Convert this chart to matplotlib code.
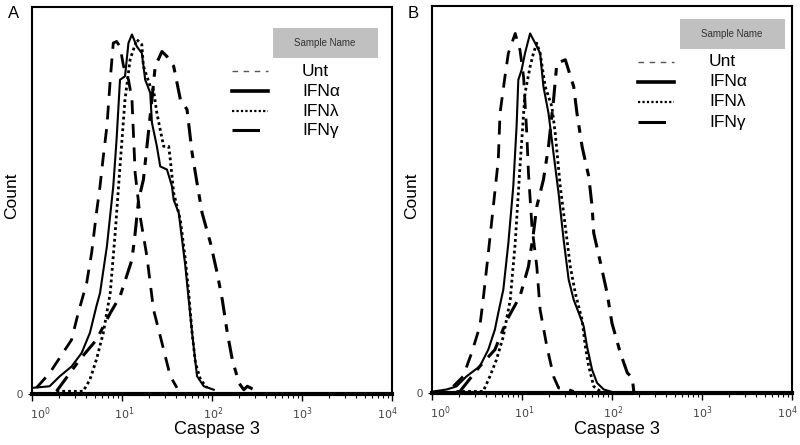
import matplotlib
matplotlib.use("Agg")
import matplotlib.pyplot as plt
import matplotlib.transforms as mtransforms
from matplotlib.ticker import LogLocator, NullFormatter, FixedLocator

plt.rcParams['font.family'] = ['Liberation Sans', 'DejaVu Sans']

# ---- panel A data (Caspase 3 intensity, count) ----
a_alpha_x = [1.03, 1.57, 2.04, 2.75, 3.56, 4.4, 5.2, 5.7, 6.8, 8.0, 8.7, 9.5, 10.8, 11.8, 12.9, 14.6,
             16.6, 18.1, 20.6, 21.5, 24.4, 26.6, 31.6, 35.9, 37.5, 42.7, 46.5, 50.6, 55.1, 60.1, 68.2,
             81.1, 104.7]
a_alpha_y = [1.6, 2.0, 4.6, 7.1, 10.6, 15.8, 22.7, 26.1, 38.2, 53.7, 65.7, 81.2, 82.1, 90.7, 92.9, 89.8,
             88.1, 81.2, 77.8, 70.1, 64.0, 58.8, 58.0, 53.7, 50.2, 46.8, 39.9, 33.0, 24.4, 15.8, 4.6,
             2.0, 1.1]
a_lambda_x = [1.87, 3.7, 4.4, 5.2, 6.2, 7.4, 8.4, 9.5, 10.8, 12.3, 13.4, 14.6, 16.6, 17.3, 20.6, 22.4,
              24.4, 29.0, 33.0, 34.4, 37.5, 44.5, 50.6, 55.1, 60.1, 65.5, 74.5, 88.3]
a_lambda_y = [0.7, 0.7, 3.7, 8.9, 15.8, 26.1, 41.6, 58.8, 76.1, 86.4, 89.0, 91.6, 90.3, 84.7, 79.5, 78.6,
              72.6, 64.0, 64.0, 60.6, 52.0, 45.0, 34.7, 26.1, 15.8, 8.0, 3.7, 1.6]
a_unt_x = [1.12, 1.57, 2.75, 3.26, 4.05, 4.6, 5.2, 5.7, 6.2, 6.8, 7.4, 8.0, 8.7, 9.5, 10.4, 11.8, 12.9,
           14.0, 15.9, 18.9, 22.4, 27.8, 34.4, 40.8]
a_unt_y = [1.6, 5.4, 14.0, 20.9, 28.7, 36.5, 46.8, 53.7, 61.4, 69.2, 81.2, 90.7, 91.1, 89.8, 84.7, 81.2,
           76.1, 57.1, 45.9, 35.6, 21.8, 13.2, 4.6, 1.6]
a_gamma_x = [1.87, 3.4, 5.2, 7.4, 9.5, 12.9, 14.0, 15.3, 17.3, 21.5, 23.4, 27.8, 31.6, 37.5, 44.5, 52.8,
             60.1, 68.2, 77.6, 96.2, 114, 130, 148, 168, 199.5, 226, 247, 293, 333]
a_gamma_y = [0.7, 8.9, 14.0, 20.9, 25.2, 34.7, 41.6, 50.2, 55.4, 76.1, 84.7, 88.5, 87.2, 84.7, 76.1, 73.5,
             62.3, 54.5, 46.8, 39.0, 31.3, 24.4, 15.8, 8.9, 2.8, 1.1, 2.0, 1.1, 0.4]

# ---- panel B data ----
b_alpha_x = [1.03, 1.45, 1.87, 2.42, 3.4, 4.22, 5.0, 5.45, 6.2, 7.05, 8.0, 8.7, 9.1, 9.9, 10.8, 12.3,
             14.0, 15.9, 17.3, 19.7, 22.4, 25.5, 29.0, 33.0, 37.5, 42.7, 48.5, 52.8, 60.1, 68.2, 81.1, 96.2]
b_alpha_y = [0.4, 0.9, 1.7, 4.3, 6.9, 11.2, 16.4, 20.7, 26.7, 38.7, 53.4, 68.8, 80.9, 83.5, 87.8, 92.9,
             90.4, 87.8, 79.2, 72.3, 61.9, 51.6, 39.6, 29.3, 24.1, 20.7, 17.2, 12.0, 6.0, 2.6, 0.9, 0.4]
b_lambda_x = [1.87, 3.7, 4.4, 5.2, 6.2, 7.4, 8.4, 9.5, 10.8, 12.3, 13.4, 14.6, 15.9, 18.1, 21.5, 23.4,
              26.6, 30.3, 34.4, 39.1, 46.5, 50.6, 55.1, 62.7, 74.5]
b_lambda_y = [0.4, 0.4, 4.3, 8.6, 14.6, 24.1, 38.7, 58.5, 77.5, 84.3, 87.8, 90.4, 87.8, 79.2, 74.0, 67.1,
              53.4, 43.0, 32.7, 25.8, 18.9, 12.0, 6.9, 1.7, 0.4]
b_unt_x = [1.72, 2.22, 2.75, 3.4, 3.7, 4.22, 4.8, 5.45, 5.7, 6.47, 7.05, 8.4, 9.5, 10.4, 11.3, 11.8, 12.9,
           14.6, 15.9, 18.9, 22.4, 25.5, 29.0, 37.5]
b_unt_y = [1.7, 4.3, 10.3, 17.2, 24.1, 36.1, 48.2, 60.2, 72.3, 81.8, 87.8, 92.9, 88.6, 81.8, 67.1, 56.8,
           43.0, 32.7, 21.5, 12.0, 4.3, 1.3, 1.3, 0.4]
b_gamma_x = [2.04, 3.4, 5.0, 6.8, 9.5, 11.8, 13.4, 14.6, 17.3, 19.7, 22.4, 24.4, 30.3, 37.5, 40.8, 46.5,
             55.1, 60.1, 62.7, 74.5, 88.3, 99.8, 124, 148, 168, 175]
b_gamma_y = [0.4, 6.9, 11.2, 18.9, 25.0, 32.7, 41.3, 48.2, 55.1, 63.7, 75.7, 85.2, 86.1, 79.2, 72.3, 63.7,
             56.0, 48.2, 41.3, 33.6, 25.8, 18.1, 10.3, 5.2, 3.9, 0.2]

legend_names = ['Unt', 'IFN\u03b1', 'IFN\u03bb', 'IFN\u03b3']
tick_labels = ['$10^{0}$', '$10^{1}$', '$10^{2}$', '$10^{3}$', '$10^{4}$']
tick_shift = [0.08, 0.02, 0.01, 0.0, -0.05]  # inches, the software keeps labels inside the box

W, H = 800, 445
fig = plt.figure(figsize=(8, 4.45), dpi=100)

styles = {
    'Unt': dict(color='black', lw=2.0, dashes=(5, 3.5)),
    'alpha': dict(color='black', lw=1.5, linestyle='-'),
    'lambda': dict(color='black', lw=2.0, linestyle=(0, (1, 1.1))),
    'gamma': dict(color='black', lw=2.2, dashes=(6, 3, 2.5, 3)),
}


def fig_box(left, top, right, bottom):
    # pixel box -> figure fraction [l, b, w, h]
    return [left / W, 1 - bottom / H, (right - left) / W, (bottom - top) / H]


def panel(box, data, letter, legend_pos):
    ax = fig.add_axes(fig_box(*box))
    unt, alpha, lam, gam = data
    ax.plot(*unt, **styles['Unt'])
    ax.plot(*alpha, **styles['alpha'])
    ax.plot(*lam, **styles['lambda'])
    ax.plot(*gam, **styles['gamma'])
    ax.set_xscale('log')
    ax.set_xlim(1, 1e4)
    ax.set_ylim(0, 100)

    ax.xaxis.set_major_locator(FixedLocator([1, 10, 100, 1000, 10000]))
    ax.set_xticklabels(tick_labels)
    ax.xaxis.set_minor_locator(LogLocator(base=10, subs=range(2, 10)))
    ax.xaxis.set_minor_formatter(NullFormatter())
    ax.tick_params(axis='x', which='major', length=5, width=1, labelsize=8,
                   labelcolor='#444444', pad=3)
    ax.tick_params(axis='x', which='minor', length=3, width=0.8)
    for lab, dx in zip(ax.get_xticklabels(), tick_shift):
        off = mtransforms.ScaledTranslation(dx, 0, fig.dpi_scale_trans)
        lab.set_transform(lab.get_transform() + off)

    ax.set_yticks([0])
    ax.set_yticklabels(['0'])
    ax.tick_params(axis='y', length=3, labelsize=8, labelcolor='#444444')

    for s in ax.spines.values():
        s.set_linewidth(1.5)
    ax.spines['bottom'].set_linewidth(3)

    cx = (box[0] + box[2]) / 2
    fig.text((cx + 5) / W, 1 - 430 / H, 'Caspase 3', fontsize=13, ha='center', va='center')
    fig.text((box[0] - 20) / W, 1 - 196 / H, 'Count', fontsize=12.5, rotation=90,
             ha='center', va='center')
    fig.text((box[0] - 24) / W, 1 - 14 / H, letter, fontsize=12, va='center')

    # legend drawn by hand, like the cytometry software
    gx0, gy0, x1, x2, tx, rows = legend_pos
    fig.patches.append(plt.Rectangle((gx0 / W, 1 - (gy0 + 30) / H), 105 / W, 30 / H,
                                     transform=fig.transFigure, facecolor='#c0c0c0',
                                     edgecolor='none'))
    fig.text((gx0 + 52) / W, 1 - (gy0 + 15) / H, 'Sample Name', fontsize=7,
             color='#333333', ha='center', va='center')
    leg_styles = [dict(color='#555555', lw=1.0, dashes=(4, 4)),
                  dict(color='black', lw=2.6, linestyle='-'),
                  dict(color='black', lw=1.6, linestyle=(0, (1, 1))),
                  dict(color='black', lw=2.2, dashes=(9, 8, 4, 8))]
    for name, st, ry in zip(legend_names, leg_styles, rows):
        fig.add_artist(plt.Line2D([x1 / W, x2 / W], [1 - ry / H, 1 - ry / H],
                                  transform=fig.transFigure, **st))
        fig.text(tx / W, 1 - ry / H, name, fontsize=12.5, va='center')
    return ax


panel((32, 7, 392, 394),
      [(a_unt_x, a_unt_y), (a_alpha_x, a_alpha_y), (a_lambda_x, a_lambda_y), (a_gamma_x, a_gamma_y)],
      'A', (273, 28, 232, 268, 302, [71, 91, 111, 130]))
panel((432, 6, 792, 393),
      [(b_unt_x, b_unt_y), (b_alpha_x, b_alpha_y), (b_lambda_x, b_lambda_y), (b_gamma_x, b_gamma_y)],
      'B', (680, 19, 638, 674, 709, [62, 82, 102, 122]))

fig.savefig('out.png', dpi=100)
